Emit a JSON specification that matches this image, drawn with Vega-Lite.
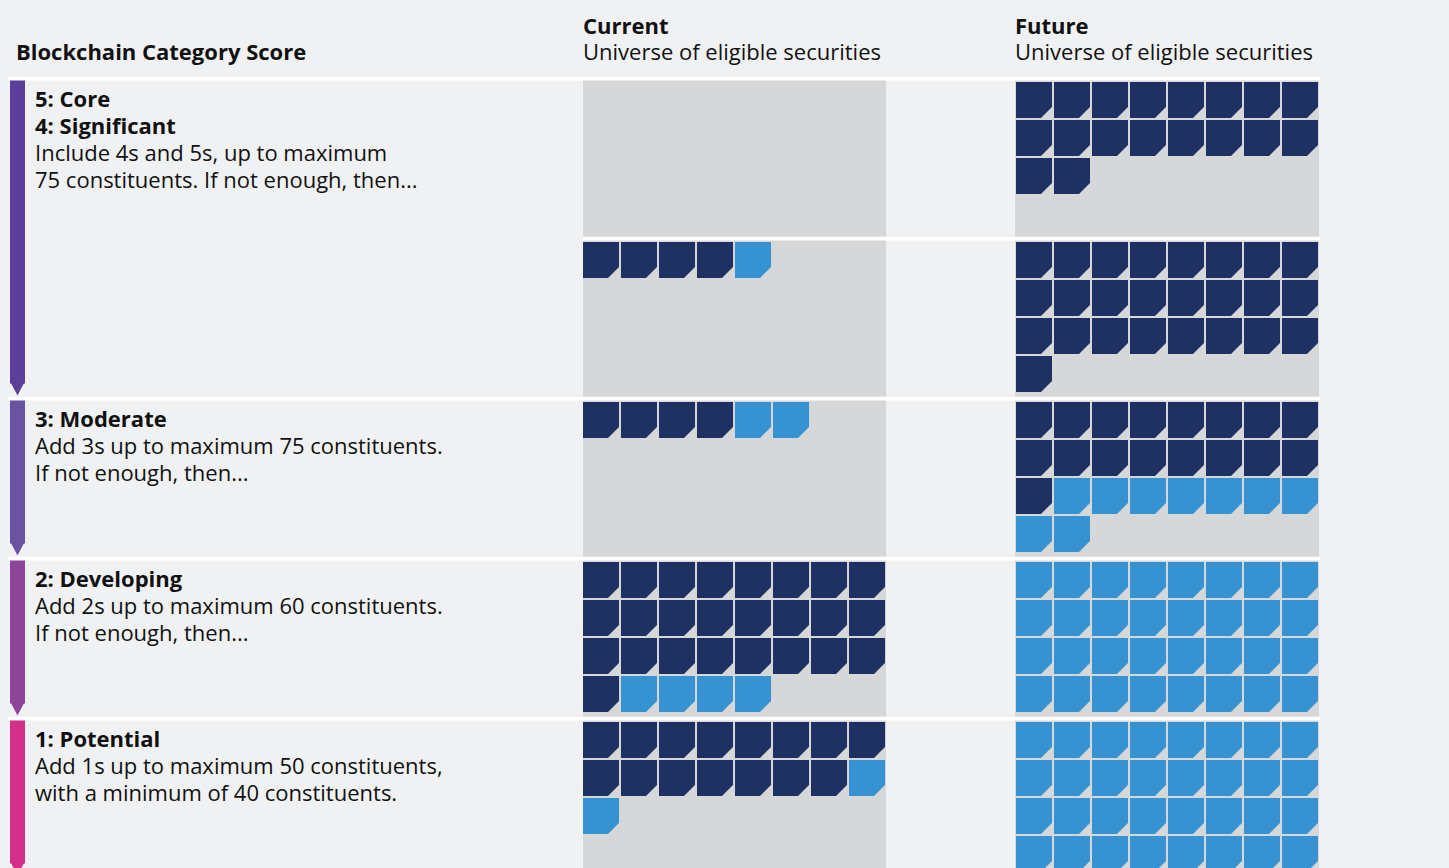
{
  "$schema": "https://vega.github.io/schema/vega-lite/v6.json",
  "background": "#f0f1f3",
  "padding": {"left": 8, "top": 16, "right": 135, "bottom": 0},
  "spacing": 0,
  "config": {"view": {"stroke": null}, "font": "Open Sans"},
  "datasets": {
    "rows": [
      {"band":"5","line":0,"weight":"bold","text":"5: Core"},
      {"band":"5","line":1,"weight":"bold","text":"4: Significant"},
      {"band":"5","line":2,"weight":"normal","text":"Include 4s and 5s, up to maximum"},
      {"band":"5","line":3,"weight":"normal","text":"75 constituents. If not enough, then..."},
      {"band":"3","line":0,"weight":"bold","text":"3: Moderate"},
      {"band":"3","line":1,"weight":"normal","text":"Add 3s up to maximum 75 constituents."},
      {"band":"3","line":2,"weight":"normal","text":"If not enough, then..."},
      {"band":"2","line":0,"weight":"bold","text":"2: Developing"},
      {"band":"2","line":1,"weight":"normal","text":"Add 2s up to maximum 60 constituents."},
      {"band":"2","line":2,"weight":"normal","text":"If not enough, then..."},
      {"band":"1","line":0,"weight":"bold","text":"1: Potential"},
      {"band":"1","line":1,"weight":"normal","text":"Add 1s up to maximum 50 constituents,"},
      {"band":"1","line":2,"weight":"normal","text":"with a minimum of 40 constituents."},

      {"band":"5","panel":"Future","row":0,"col":0,"kind":"main"},
      {"band":"5","panel":"Future","row":0,"col":1,"kind":"main"},
      {"band":"5","panel":"Future","row":0,"col":2,"kind":"main"},
      {"band":"5","panel":"Future","row":0,"col":3,"kind":"main"},
      {"band":"5","panel":"Future","row":0,"col":4,"kind":"main"},
      {"band":"5","panel":"Future","row":0,"col":5,"kind":"main"},
      {"band":"5","panel":"Future","row":0,"col":6,"kind":"main"},
      {"band":"5","panel":"Future","row":0,"col":7,"kind":"main"},
      {"band":"5","panel":"Future","row":1,"col":0,"kind":"main"},
      {"band":"5","panel":"Future","row":1,"col":1,"kind":"main"},
      {"band":"5","panel":"Future","row":1,"col":2,"kind":"main"},
      {"band":"5","panel":"Future","row":1,"col":3,"kind":"main"},
      {"band":"5","panel":"Future","row":1,"col":4,"kind":"main"},
      {"band":"5","panel":"Future","row":1,"col":5,"kind":"main"},
      {"band":"5","panel":"Future","row":1,"col":6,"kind":"main"},
      {"band":"5","panel":"Future","row":1,"col":7,"kind":"main"},
      {"band":"5","panel":"Future","row":2,"col":0,"kind":"main"},
      {"band":"5","panel":"Future","row":2,"col":1,"kind":"main"},

      {"band":"4","panel":"Current","row":0,"col":0,"kind":"main"},
      {"band":"4","panel":"Current","row":0,"col":1,"kind":"main"},
      {"band":"4","panel":"Current","row":0,"col":2,"kind":"main"},
      {"band":"4","panel":"Current","row":0,"col":3,"kind":"main"},
      {"band":"4","panel":"Current","row":0,"col":4,"kind":"added"},
      {"band":"4","panel":"Future","row":0,"col":0,"kind":"main"},
      {"band":"4","panel":"Future","row":0,"col":1,"kind":"main"},
      {"band":"4","panel":"Future","row":0,"col":2,"kind":"main"},
      {"band":"4","panel":"Future","row":0,"col":3,"kind":"main"},
      {"band":"4","panel":"Future","row":0,"col":4,"kind":"main"},
      {"band":"4","panel":"Future","row":0,"col":5,"kind":"main"},
      {"band":"4","panel":"Future","row":0,"col":6,"kind":"main"},
      {"band":"4","panel":"Future","row":0,"col":7,"kind":"main"},
      {"band":"4","panel":"Future","row":1,"col":0,"kind":"main"},
      {"band":"4","panel":"Future","row":1,"col":1,"kind":"main"},
      {"band":"4","panel":"Future","row":1,"col":2,"kind":"main"},
      {"band":"4","panel":"Future","row":1,"col":3,"kind":"main"},
      {"band":"4","panel":"Future","row":1,"col":4,"kind":"main"},
      {"band":"4","panel":"Future","row":1,"col":5,"kind":"main"},
      {"band":"4","panel":"Future","row":1,"col":6,"kind":"main"},
      {"band":"4","panel":"Future","row":1,"col":7,"kind":"main"},
      {"band":"4","panel":"Future","row":2,"col":0,"kind":"main"},
      {"band":"4","panel":"Future","row":2,"col":1,"kind":"main"},
      {"band":"4","panel":"Future","row":2,"col":2,"kind":"main"},
      {"band":"4","panel":"Future","row":2,"col":3,"kind":"main"},
      {"band":"4","panel":"Future","row":2,"col":4,"kind":"main"},
      {"band":"4","panel":"Future","row":2,"col":5,"kind":"main"},
      {"band":"4","panel":"Future","row":2,"col":6,"kind":"main"},
      {"band":"4","panel":"Future","row":2,"col":7,"kind":"main"},
      {"band":"4","panel":"Future","row":3,"col":0,"kind":"main"},

      {"band":"3","panel":"Current","row":0,"col":0,"kind":"main"},
      {"band":"3","panel":"Current","row":0,"col":1,"kind":"main"},
      {"band":"3","panel":"Current","row":0,"col":2,"kind":"main"},
      {"band":"3","panel":"Current","row":0,"col":3,"kind":"main"},
      {"band":"3","panel":"Current","row":0,"col":4,"kind":"added"},
      {"band":"3","panel":"Current","row":0,"col":5,"kind":"added"},
      {"band":"3","panel":"Future","row":0,"col":0,"kind":"main"},
      {"band":"3","panel":"Future","row":0,"col":1,"kind":"main"},
      {"band":"3","panel":"Future","row":0,"col":2,"kind":"main"},
      {"band":"3","panel":"Future","row":0,"col":3,"kind":"main"},
      {"band":"3","panel":"Future","row":0,"col":4,"kind":"main"},
      {"band":"3","panel":"Future","row":0,"col":5,"kind":"main"},
      {"band":"3","panel":"Future","row":0,"col":6,"kind":"main"},
      {"band":"3","panel":"Future","row":0,"col":7,"kind":"main"},
      {"band":"3","panel":"Future","row":1,"col":0,"kind":"main"},
      {"band":"3","panel":"Future","row":1,"col":1,"kind":"main"},
      {"band":"3","panel":"Future","row":1,"col":2,"kind":"main"},
      {"band":"3","panel":"Future","row":1,"col":3,"kind":"main"},
      {"band":"3","panel":"Future","row":1,"col":4,"kind":"main"},
      {"band":"3","panel":"Future","row":1,"col":5,"kind":"main"},
      {"band":"3","panel":"Future","row":1,"col":6,"kind":"main"},
      {"band":"3","panel":"Future","row":1,"col":7,"kind":"main"},
      {"band":"3","panel":"Future","row":2,"col":0,"kind":"main"},
      {"band":"3","panel":"Future","row":2,"col":1,"kind":"added"},
      {"band":"3","panel":"Future","row":2,"col":2,"kind":"added"},
      {"band":"3","panel":"Future","row":2,"col":3,"kind":"added"},
      {"band":"3","panel":"Future","row":2,"col":4,"kind":"added"},
      {"band":"3","panel":"Future","row":2,"col":5,"kind":"added"},
      {"band":"3","panel":"Future","row":2,"col":6,"kind":"added"},
      {"band":"3","panel":"Future","row":2,"col":7,"kind":"added"},
      {"band":"3","panel":"Future","row":3,"col":0,"kind":"added"},
      {"band":"3","panel":"Future","row":3,"col":1,"kind":"added"},

      {"band":"2","panel":"Current","row":0,"col":0,"kind":"main"},
      {"band":"2","panel":"Current","row":0,"col":1,"kind":"main"},
      {"band":"2","panel":"Current","row":0,"col":2,"kind":"main"},
      {"band":"2","panel":"Current","row":0,"col":3,"kind":"main"},
      {"band":"2","panel":"Current","row":0,"col":4,"kind":"main"},
      {"band":"2","panel":"Current","row":0,"col":5,"kind":"main"},
      {"band":"2","panel":"Current","row":0,"col":6,"kind":"main"},
      {"band":"2","panel":"Current","row":0,"col":7,"kind":"main"},
      {"band":"2","panel":"Current","row":1,"col":0,"kind":"main"},
      {"band":"2","panel":"Current","row":1,"col":1,"kind":"main"},
      {"band":"2","panel":"Current","row":1,"col":2,"kind":"main"},
      {"band":"2","panel":"Current","row":1,"col":3,"kind":"main"},
      {"band":"2","panel":"Current","row":1,"col":4,"kind":"main"},
      {"band":"2","panel":"Current","row":1,"col":5,"kind":"main"},
      {"band":"2","panel":"Current","row":1,"col":6,"kind":"main"},
      {"band":"2","panel":"Current","row":1,"col":7,"kind":"main"},
      {"band":"2","panel":"Current","row":2,"col":0,"kind":"main"},
      {"band":"2","panel":"Current","row":2,"col":1,"kind":"main"},
      {"band":"2","panel":"Current","row":2,"col":2,"kind":"main"},
      {"band":"2","panel":"Current","row":2,"col":3,"kind":"main"},
      {"band":"2","panel":"Current","row":2,"col":4,"kind":"main"},
      {"band":"2","panel":"Current","row":2,"col":5,"kind":"main"},
      {"band":"2","panel":"Current","row":2,"col":6,"kind":"main"},
      {"band":"2","panel":"Current","row":2,"col":7,"kind":"main"},
      {"band":"2","panel":"Current","row":3,"col":0,"kind":"main"},
      {"band":"2","panel":"Current","row":3,"col":1,"kind":"added"},
      {"band":"2","panel":"Current","row":3,"col":2,"kind":"added"},
      {"band":"2","panel":"Current","row":3,"col":3,"kind":"added"},
      {"band":"2","panel":"Current","row":3,"col":4,"kind":"added"},
      {"band":"2","panel":"Future","row":0,"col":0,"kind":"added"},
      {"band":"2","panel":"Future","row":0,"col":1,"kind":"added"},
      {"band":"2","panel":"Future","row":0,"col":2,"kind":"added"},
      {"band":"2","panel":"Future","row":0,"col":3,"kind":"added"},
      {"band":"2","panel":"Future","row":0,"col":4,"kind":"added"},
      {"band":"2","panel":"Future","row":0,"col":5,"kind":"added"},
      {"band":"2","panel":"Future","row":0,"col":6,"kind":"added"},
      {"band":"2","panel":"Future","row":0,"col":7,"kind":"added"},
      {"band":"2","panel":"Future","row":1,"col":0,"kind":"added"},
      {"band":"2","panel":"Future","row":1,"col":1,"kind":"added"},
      {"band":"2","panel":"Future","row":1,"col":2,"kind":"added"},
      {"band":"2","panel":"Future","row":1,"col":3,"kind":"added"},
      {"band":"2","panel":"Future","row":1,"col":4,"kind":"added"},
      {"band":"2","panel":"Future","row":1,"col":5,"kind":"added"},
      {"band":"2","panel":"Future","row":1,"col":6,"kind":"added"},
      {"band":"2","panel":"Future","row":1,"col":7,"kind":"added"},
      {"band":"2","panel":"Future","row":2,"col":0,"kind":"added"},
      {"band":"2","panel":"Future","row":2,"col":1,"kind":"added"},
      {"band":"2","panel":"Future","row":2,"col":2,"kind":"added"},
      {"band":"2","panel":"Future","row":2,"col":3,"kind":"added"},
      {"band":"2","panel":"Future","row":2,"col":4,"kind":"added"},
      {"band":"2","panel":"Future","row":2,"col":5,"kind":"added"},
      {"band":"2","panel":"Future","row":2,"col":6,"kind":"added"},
      {"band":"2","panel":"Future","row":2,"col":7,"kind":"added"},
      {"band":"2","panel":"Future","row":3,"col":0,"kind":"added"},
      {"band":"2","panel":"Future","row":3,"col":1,"kind":"added"},
      {"band":"2","panel":"Future","row":3,"col":2,"kind":"added"},
      {"band":"2","panel":"Future","row":3,"col":3,"kind":"added"},
      {"band":"2","panel":"Future","row":3,"col":4,"kind":"added"},
      {"band":"2","panel":"Future","row":3,"col":5,"kind":"added"},
      {"band":"2","panel":"Future","row":3,"col":6,"kind":"added"},
      {"band":"2","panel":"Future","row":3,"col":7,"kind":"added"},

      {"band":"1","panel":"Current","row":0,"col":0,"kind":"main"},
      {"band":"1","panel":"Current","row":0,"col":1,"kind":"main"},
      {"band":"1","panel":"Current","row":0,"col":2,"kind":"main"},
      {"band":"1","panel":"Current","row":0,"col":3,"kind":"main"},
      {"band":"1","panel":"Current","row":0,"col":4,"kind":"main"},
      {"band":"1","panel":"Current","row":0,"col":5,"kind":"main"},
      {"band":"1","panel":"Current","row":0,"col":6,"kind":"main"},
      {"band":"1","panel":"Current","row":0,"col":7,"kind":"main"},
      {"band":"1","panel":"Current","row":1,"col":0,"kind":"main"},
      {"band":"1","panel":"Current","row":1,"col":1,"kind":"main"},
      {"band":"1","panel":"Current","row":1,"col":2,"kind":"main"},
      {"band":"1","panel":"Current","row":1,"col":3,"kind":"main"},
      {"band":"1","panel":"Current","row":1,"col":4,"kind":"main"},
      {"band":"1","panel":"Current","row":1,"col":5,"kind":"main"},
      {"band":"1","panel":"Current","row":1,"col":6,"kind":"main"},
      {"band":"1","panel":"Current","row":1,"col":7,"kind":"added"},
      {"band":"1","panel":"Current","row":2,"col":0,"kind":"added"},
      {"band":"1","panel":"Future","row":0,"col":0,"kind":"added"},
      {"band":"1","panel":"Future","row":0,"col":1,"kind":"added"},
      {"band":"1","panel":"Future","row":0,"col":2,"kind":"added"},
      {"band":"1","panel":"Future","row":0,"col":3,"kind":"added"},
      {"band":"1","panel":"Future","row":0,"col":4,"kind":"added"},
      {"band":"1","panel":"Future","row":0,"col":5,"kind":"added"},
      {"band":"1","panel":"Future","row":0,"col":6,"kind":"added"},
      {"band":"1","panel":"Future","row":0,"col":7,"kind":"added"},
      {"band":"1","panel":"Future","row":1,"col":0,"kind":"added"},
      {"band":"1","panel":"Future","row":1,"col":1,"kind":"added"},
      {"band":"1","panel":"Future","row":1,"col":2,"kind":"added"},
      {"band":"1","panel":"Future","row":1,"col":3,"kind":"added"},
      {"band":"1","panel":"Future","row":1,"col":4,"kind":"added"},
      {"band":"1","panel":"Future","row":1,"col":5,"kind":"added"},
      {"band":"1","panel":"Future","row":1,"col":6,"kind":"added"},
      {"band":"1","panel":"Future","row":1,"col":7,"kind":"added"},
      {"band":"1","panel":"Future","row":2,"col":0,"kind":"added"},
      {"band":"1","panel":"Future","row":2,"col":1,"kind":"added"},
      {"band":"1","panel":"Future","row":2,"col":2,"kind":"added"},
      {"band":"1","panel":"Future","row":2,"col":3,"kind":"added"},
      {"band":"1","panel":"Future","row":2,"col":4,"kind":"added"},
      {"band":"1","panel":"Future","row":2,"col":5,"kind":"added"},
      {"band":"1","panel":"Future","row":2,"col":6,"kind":"added"},
      {"band":"1","panel":"Future","row":2,"col":7,"kind":"added"},
      {"band":"1","panel":"Future","row":3,"col":0,"kind":"added"},
      {"band":"1","panel":"Future","row":3,"col":1,"kind":"added"},
      {"band":"1","panel":"Future","row":3,"col":2,"kind":"added"},
      {"band":"1","panel":"Future","row":3,"col":3,"kind":"added"},
      {"band":"1","panel":"Future","row":3,"col":4,"kind":"added"},
      {"band":"1","panel":"Future","row":3,"col":5,"kind":"added"},
      {"band":"1","panel":"Future","row":3,"col":6,"kind":"added"},
      {"band":"1","panel":"Future","row":3,"col":7,"kind":"added"}
    ]
  },
  "hconcat": [
    {
      "data": {"name": "rows"},
      "facet": {"row": {"field": "band", "type": "nominal", "sort": "descending", "header": null}},
      "spacing": 0,
      "bounds": "flush",
      "title": {"text": " ", "subtitle": "Blockchain Category Score", "anchor": "start", "font": "Open Sans", "fontSize": 22, "fontWeight": "bold", "color": "#111111", "subtitleFont": "Open Sans", "subtitleFontSize": 22, "subtitleFontWeight": "bold", "subtitleColor": "#111111", "subtitlePadding": 4, "offset": 12, "dx": 8},
      "spec": {
        "width": 575,
        "height": 159.5,
        "layer": [
          {
            "transform": [{"aggregate": [{"op": "count", "as": "n"}], "groupby": ["band"]}, {"filter": "datum.band !== '4'"}],
            "mark": {"type": "rect", "color": "#ffffff"},
            "encoding": {
              "x": {"datum": 0, "type": "quantitative", "scale": {"domain": [0, 575], "nice": false, "zero": false}, "axis": null},
              "x2": {"datum": 575},
              "y": {"datum": -1.1423, "type": "quantitative", "scale": {"domain": [-1.1423, 4.8315], "reverse": true, "nice": false, "zero": false}, "axis": null},
              "y2": {"datum": -1.015}
            }
          },
          {
            "transform": [{"aggregate": [{"op": "count", "as": "n"}], "groupby": ["band"]}, {"filter": "datum.band === '5'"}],
            "mark": {"type": "rect"},
            "encoding": {
              "x": {"datum": 2, "type": "quantitative", "scale": {"domain": [0, 575], "nice": false, "zero": false}, "axis": null},
              "x2": {"datum": 17},
              "y": {"datum": -1.015, "type": "quantitative", "scale": {"domain": [-1.1423, 4.8315], "reverse": true, "nice": false, "zero": false}, "axis": null},
              "y2": {"datum": 4.95},
              "fill": {"field": "band", "type": "nominal", "scale": {"domain": ["5","4","3","2","1"], "range": ["#5c3f9a","#5c3f9a","#6b53a4","#8e4599","#d52f8c"]}, "legend": null}
            }
          },
          {
            "transform": [{"aggregate": [{"op": "count", "as": "n"}], "groupby": ["band"]}, {"filter": "datum.band === '4'"}],
            "mark": {"type": "rect"},
            "encoding": {
              "x": {"datum": 2, "type": "quantitative", "scale": {"domain": [0, 575], "nice": false, "zero": false}, "axis": null},
              "x2": {"datum": 17},
              "y": {"datum": -1.25, "type": "quantitative", "scale": {"domain": [-1.1423, 4.8315], "reverse": true, "nice": false, "zero": false}, "axis": null},
              "y2": {"datum": 4.3446},
              "fill": {"field": "band", "type": "nominal", "scale": {"domain": ["5","4","3","2","1"], "range": ["#5c3f9a","#5c3f9a","#6b53a4","#8e4599","#d52f8c"]}, "legend": null}
            }
          },
          {
            "transform": [{"aggregate": [{"op": "count", "as": "n"}], "groupby": ["band"]}, {"filter": "datum.band !== '4' && datum.band !== '5'"}],
            "mark": {"type": "rect"},
            "encoding": {
              "x": {"datum": 2, "type": "quantitative", "scale": {"domain": [0, 575], "nice": false, "zero": false}, "axis": null},
              "x2": {"datum": 17},
              "y": {"datum": -1.015, "type": "quantitative", "scale": {"domain": [-1.1423, 4.8315], "reverse": true, "nice": false, "zero": false}, "axis": null},
              "y2": {"datum": 4.3446},
              "fill": {"field": "band", "type": "nominal", "scale": {"domain": ["5","4","3","2","1"], "range": ["#5c3f9a","#5c3f9a","#6b53a4","#8e4599","#d52f8c"]}, "legend": null}
            }
          },
          {
            "transform": [{"aggregate": [{"op": "count", "as": "n"}], "groupby": ["band"]}, {"filter": "datum.band !== '5'"}],
            "mark": {"type": "point", "shape": "M-1,-1.3L1,-1.3L0,0.6Z", "size": 225, "filled": true, "opacity": 1, "strokeWidth": 0},
            "encoding": {
              "x": {"datum": 9.5, "type": "quantitative", "scale": {"domain": [0, 575], "nice": false, "zero": false}, "axis": null},
              "y": {"datum": 4.6255, "type": "quantitative", "scale": {"domain": [-1.1423, 4.8315], "reverse": true, "nice": false, "zero": false}, "axis": null},
              "fill": {"field": "band", "type": "nominal", "scale": {"domain": ["5","4","3","2","1"], "range": ["#5c3f9a","#5c3f9a","#6b53a4","#8e4599","#d52f8c"]}, "legend": null}
            }
          },
          {
            "transform": [{"filter": "datum.weight === 'bold'"}],
            "mark": {"type": "text", "align": "left", "baseline": "alphabetic", "font": "Open Sans", "fontSize": 22, "fontWeight": "bold", "color": "#111111"},
            "encoding": {
              "x": {"datum": 27, "type": "quantitative", "scale": {"domain": [0, 575], "nice": false, "zero": false}, "axis": null},
              "y": {"field": "line", "type": "quantitative", "scale": {"domain": [-1.1423, 4.8315], "reverse": true, "nice": false, "zero": false}, "axis": null},
              "text": {"field": "text", "type": "nominal"}
            }
          },
          {
            "transform": [{"filter": "datum.weight === 'normal'"}],
            "mark": {"type": "text", "align": "left", "baseline": "alphabetic", "font": "Open Sans", "fontSize": 22, "fontWeight": "normal", "color": "#111111"},
            "encoding": {
              "x": {"datum": 27, "type": "quantitative", "scale": {"domain": [0, 575], "nice": false, "zero": false}, "axis": null},
              "y": {"field": "line", "type": "quantitative", "scale": {"domain": [-1.1423, 4.8315], "reverse": true, "nice": false, "zero": false}, "axis": null},
              "text": {"field": "text", "type": "nominal"}
            }
          }
        ]
      }
    },
    {
      "data": {"name": "rows"},
      "facet": {"row": {"field": "band", "type": "nominal", "sort": "descending", "header": null}},
      "spacing": 0,
      "bounds": "flush",
      "title": {"text": "Current", "subtitle": "Universe of eligible securities", "anchor": "start", "font": "Open Sans", "fontSize": 22, "fontWeight": "bold", "color": "#111111", "subtitleFont": "Open Sans", "subtitleFontSize": 22, "subtitleColor": "#111111", "subtitlePadding": 4, "offset": 12},
      "spec": {
        "width": 432,
        "height": 159.5,
        "layer": [
          {
            "transform": [{"aggregate": [{"op": "count", "as": "n"}], "groupby": ["band"]}],
            "mark": {"type": "rect", "color": "#d6d7d9"},
            "encoding": {
              "x": {"datum": -0.474, "type": "quantitative", "scale": {"domain": [-0.474, 10.894], "nice": false, "zero": false}, "axis": null},
              "x2": {"datum": 7.5},
              "y": {"datum": -0.605, "type": "quantitative", "scale": {"domain": [-0.605, 3.592], "reverse": true, "nice": false, "zero": false}, "axis": null},
              "y2": {"datum": 3.592}
            }
          },
          {
            "transform": [{"aggregate": [{"op": "count", "as": "n"}], "groupby": ["band"]}],
            "mark": {"type": "rect", "color": "#ffffff"},
            "encoding": {
              "x": {"datum": -0.474, "type": "quantitative", "scale": {"domain": [-0.474, 10.894], "nice": false, "zero": false}, "axis": null},
              "x2": {"datum": 10.894},
              "y": {"datum": -0.605, "type": "quantitative", "scale": {"domain": [-0.605, 3.592], "reverse": true, "nice": false, "zero": false}, "axis": null},
              "y2": {"datum": -0.516}
            }
          },
          {
            "transform": [{"filter": "datum.panel === 'Current'"}],
            "mark": {"type": "point", "shape": "M-1,-1H1V0.39L0.39,1H-1Z", "size": 1296, "filled": true, "opacity": 1, "strokeWidth": 0},
            "encoding": {
              "x": {"field": "col", "type": "quantitative", "scale": {"domain": [-0.474, 10.894], "nice": false, "zero": false}, "axis": null},
              "y": {"field": "row", "type": "quantitative", "scale": {"domain": [-0.605, 3.592], "reverse": true, "nice": false, "zero": false}, "axis": null},
              "color": {"field": "kind", "type": "nominal", "scale": {"domain": ["main", "added"], "range": ["#1f3162", "#3692d1"]}, "legend": null}
            }
          }
        ]
      }
    },
    {
      "data": {"name": "rows"},
      "facet": {"row": {"field": "band", "type": "nominal", "sort": "descending", "header": null}},
      "spacing": 0,
      "bounds": "flush",
      "title": {"text": "Future", "subtitle": "Universe of eligible securities", "anchor": "start", "font": "Open Sans", "fontSize": 22, "fontWeight": "bold", "color": "#111111", "subtitleFont": "Open Sans", "subtitleFontSize": 22, "subtitleColor": "#111111", "subtitlePadding": 4, "offset": 12},
      "spec": {
        "width": 305,
        "height": 159.5,
        "layer": [
          {
            "transform": [{"aggregate": [{"op": "count", "as": "n"}], "groupby": ["band"]}],
            "mark": {"type": "rect", "color": "#d6d7d9"},
            "encoding": {
              "x": {"datum": -0.5, "type": "quantitative", "scale": {"domain": [-0.5, 7.526], "nice": false, "zero": false}, "axis": null},
              "x2": {"datum": 7.5},
              "y": {"datum": -0.605, "type": "quantitative", "scale": {"domain": [-0.605, 3.592], "reverse": true, "nice": false, "zero": false}, "axis": null},
              "y2": {"datum": 3.592}
            }
          },
          {
            "transform": [{"aggregate": [{"op": "count", "as": "n"}], "groupby": ["band"]}],
            "mark": {"type": "rect", "color": "#ffffff"},
            "encoding": {
              "x": {"datum": -0.5, "type": "quantitative", "scale": {"domain": [-0.5, 7.526], "nice": false, "zero": false}, "axis": null},
              "x2": {"datum": 7.526},
              "y": {"datum": -0.605, "type": "quantitative", "scale": {"domain": [-0.605, 3.592], "reverse": true, "nice": false, "zero": false}, "axis": null},
              "y2": {"datum": -0.516}
            }
          },
          {
            "transform": [{"filter": "datum.panel === 'Future'"}],
            "mark": {"type": "point", "shape": "M-1,-1H1V0.39L0.39,1H-1Z", "size": 1296, "filled": true, "opacity": 1, "strokeWidth": 0},
            "encoding": {
              "x": {"field": "col", "type": "quantitative", "scale": {"domain": [-0.5, 7.526], "nice": false, "zero": false}, "axis": null},
              "y": {"field": "row", "type": "quantitative", "scale": {"domain": [-0.605, 3.592], "reverse": true, "nice": false, "zero": false}, "axis": null},
              "color": {"field": "kind", "type": "nominal", "scale": {"domain": ["main", "added"], "range": ["#1f3162", "#3692d1"]}, "legend": null}
            }
          }
        ]
      }
    }
  ]
}
